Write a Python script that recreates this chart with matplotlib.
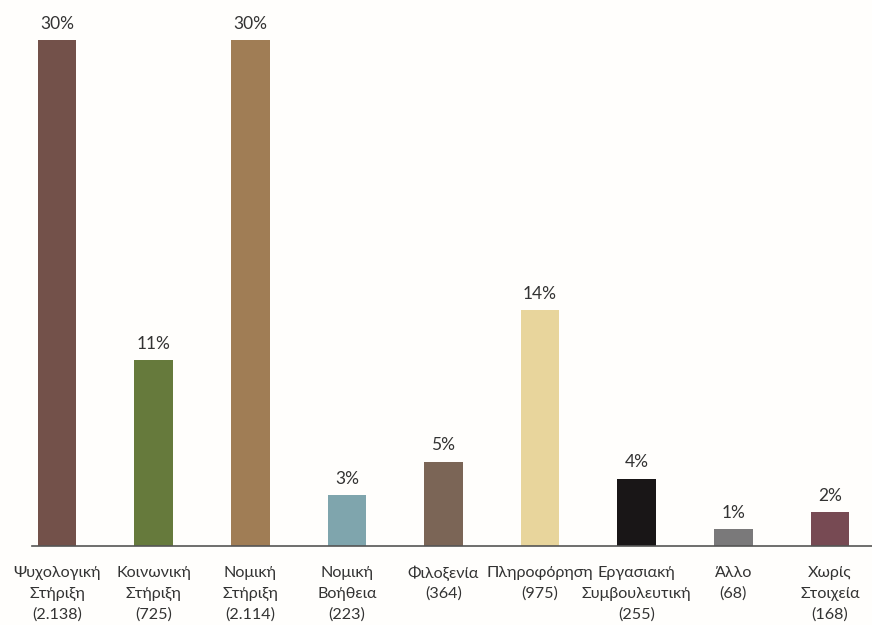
import matplotlib
matplotlib.use("Agg")
import matplotlib.pyplot as plt

categories = ["Ψυχολογική\nΣτήριξη", "Κοινωνική\nΣτήριξη", "Νομική\nΣτήριξη",
              "Νομική\nΒοήθεια", "Φιλοξενία", "Πληροφόρηση",
              "Εργασιακή\nΣυμβουλευτική", "Άλλο", "Χωρίς\nΣτοιχεία"]
counts = ["2.138", "725", "2.114", "223", "364", "975", "255", "68", "168"]
percents = [30, 11, 30, 3, 5, 14, 4, 1, 2]
colors = ["#73514a", "#667a3c", "#a07d55", "#7fa5ad", "#7b6556",
          "#e8d59c", "#191617", "#7a797a", "#774a53"]

plt.rcParams['font.family'] = ['Lato', 'DejaVu Sans']

fig = plt.figure(figsize=(8.72, 6.25), dpi=100, facecolor="#fffefc")
ax = fig.add_axes([0, 79/625, 1, 546/625])
ax.set_facecolor("#fffefc")

x = list(range(len(categories)))
bars = ax.bar(x, percents, width=0.40, color=colors)
ax.bar_label(bars, labels=[f"{p}%" for p in percents], padding=6,
             fontsize=12.5, color="#333333")

ax.set_xlim(-0.59, 8.435)
ax.set_ylim(0, 32.37)
for s in ["top", "left", "right"]:
    ax.spines[s].set_visible(False)
ax.spines["bottom"].set_color("#555555")
ax.spines["bottom"].set_linewidth(1.2)
ax.spines["bottom"].set_bounds(-0.26, 8.435)
ax.set_yticks([])
ax.set_xticks(x)
ax.set_xticklabels([])
ax.tick_params(axis="x", length=0)

# category labels, one text per line so the lines stay separate
for i, (c, n) in enumerate(zip(categories, counts)):
    lines = c.split("\n") + [f"({n})"]
    for j, line in enumerate(lines):
        ax.annotate(line, xy=(i, 0), xycoords=("data", "axes fraction"),
                    xytext=(0, -27 - 21 * j), textcoords="offset pixels",
                    ha="center", va="center", fontsize=11.6, color="#333333",
                    annotation_clip=False)

fig.savefig("out.png", dpi=100, facecolor=fig.get_facecolor())
